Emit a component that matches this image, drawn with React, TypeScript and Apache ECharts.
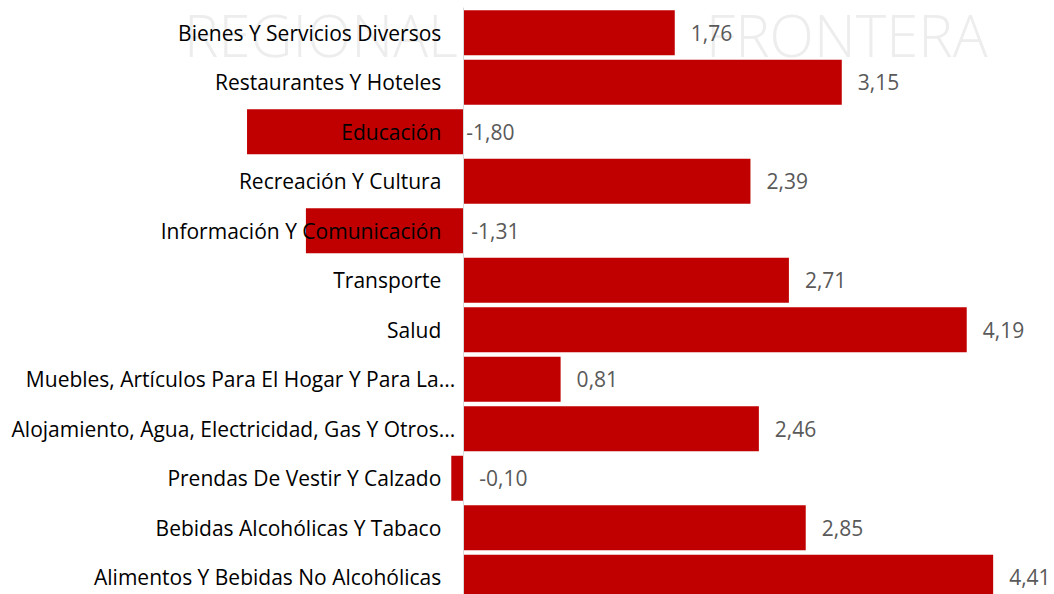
import React, { useEffect, useRef } from "react";
import * as echarts from "echarts";

const categories: string[] = [
  "Bienes Y Servicios Diversos",
  "Restaurantes Y Hoteles",
  "Educación",
  "Recreación Y Cultura",
  "Información Y Comunicación",
  "Transporte",
  "Salud",
  "Muebles, Artículos Para El Hogar Y Para La...",
  "Alojamiento, Agua, Electricidad, Gas Y Otros...",
  "Prendas De Vestir Y Calzado",
  "Bebidas Alcohólicas Y Tabaco",
  "Alimentos Y Bebidas No Alcohólicas",
];

const values: number[] = [1.76, 3.15, -1.8, 2.39, -1.31, 2.71, 4.19, 0.81, 2.46, -0.1, 2.85, 4.41];

const negativeLabelGap: number[] = [0, 0, 3, 0, 8, 0, 0, 0, 0, 16, 0, 0];

const watermarkWords: string[] = ["REGIONAL", "FRONTERA"];

const FONT = "'Open Sans', 'Noto Sans', sans-serif";

const X_MIN = -2;
const X_MAX = 4.7;
const GRID_LEFT = 223;
const GRID_WIDTH = 805;

export default function App() {
  const ref = useRef<HTMLDivElement>(null);

  useEffect(() => {
    if (!ref.current) return;
    const chart = echarts.init(ref.current, null, { renderer: "svg" });
    const data = values.map((v, i) => ({
      value: v,
      label:
        v < 0
          ? { position: "right", distance: negativeLabelGap[i] }
          : { position: "right", distance: 16 },
    }));
    const zeroOffset = (-X_MIN / (X_MAX - X_MIN)) * GRID_WIDTH;
    const wm = (text: string, x: number) => ({
      type: "text",
      x,
      y: 34,
      z: -10,
      silent: true,
      style: {
        text,
        fontSize: 58,
        fontFamily: "'Open Sans', sans-serif",
        fontWeight: 300,
        fill: "#ededed",
        verticalAlign: "middle",
        align: "left",
      },
    });
    chart.setOption({
      animation: false,
      backgroundColor: "#ffffff",
      graphic: [wm(watermarkWords[0], 184), wm(watermarkWords[1], 706)],
      grid: {
        left: GRID_LEFT,
        width: GRID_WIDTH,
        top: 8,
        height: 594,
        containLabel: false,
        outerBoundsMode: "none",
      },
      xAxis: {
        type: "value",
        min: X_MIN,
        max: X_MAX,
        show: false,
        splitLine: { show: false },
      },
      yAxis: {
        type: "category",
        data: categories,
        inverse: true,
        z: 5,
        axisLine: { show: true, lineStyle: { color: "#d9d9d9", width: 1 } },
        axisTick: { show: false },
        axisLabel: {
          color: "#000000",
          fontSize: 21,
          fontFamily: FONT,
          margin: 8 - zeroOffset,
          formatter: (name: string) =>
            name.endsWith("...") ? name : `${name}{s| }`,
          rich: {
            s: { width: 14, fontSize: 21, fontFamily: FONT },
          },
        },
      },
      series: [
        {
          type: "bar",
          data,
          barWidth: 45,
          itemStyle: { color: "#C00000" },
          label: {
            show: true,
            color: "#595959",
            fontSize: 21,
            fontFamily: FONT,
            formatter: (p: any) => p.value.toFixed(2).replace(".", ","),
          },
        },
      ],
    });
    return () => chart.dispose();
  }, []);

  return (
    <div
      ref={ref}
      style={{ position: "absolute", left: 0, top: 0, width: 1054, height: 594 }}
    />
  );
}
